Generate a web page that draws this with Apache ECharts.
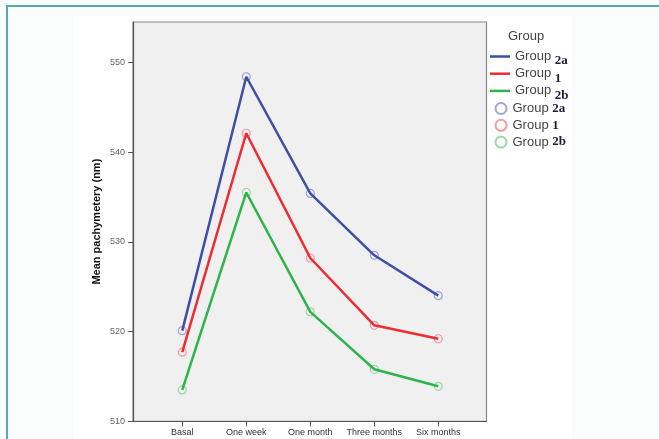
<!DOCTYPE html>
<html>
<head>
<meta charset="utf-8">
<script src="https://cdn.jsdelivr.net/npm/echarts@6/dist/echarts.min.js"></script>
<style>
  html, body { margin: 0; padding: 0; background: #fbfcfc; }
  #frame { position: absolute; left: 6px; top: 5px; width: 660px; height: 440px;
           border-top: 2px solid #5aa9a8; border-left: 2px solid #5aa9a8; }
  #paper { position: absolute; left: 73px; top: 16px; width: 499px; height: 423px; background: #fff; }
  #main { position: absolute; left: 0; top: 0; width: 659px; height: 439px; }
</style>
</head>
<body>
<div id="frame"></div>
<div id="paper"></div>
<div id="main"></div>
<script>
// categories on the x axis
var categories = ["Basal", "One week", "One month", "Three months", "Six months"];
// y axis tick values
var yTicks = [510, 520, 530, 540, 550];
// mean pachymetry per group
var group2a = [520.1, 548.4, 535.4, 528.5, 524.0];
var group1  = [517.7, 542.1, 528.2, 520.7, 519.2];
var group2b = [513.5, 535.5, 522.2, 515.8, 513.9];

var subs = { "2a": group2a, "1": group1, "2b": group2b };
var lineColors = { "2a": "#3f4fa5", "1": "#ee2b32", "2b": "#2eb44a" };
var dotColors  = { "2a": "#8790d0", "1": "#f2858a", "2b": "#86d190" };
var order = ["2a", "1", "2b"];

function pts(arr) {
  return arr.map(function (v, i) { return [i, v]; });
}

var series = [];
order.forEach(function (k) {
  series.push({
    name: "line " + k,
    type: "line",
    symbol: "none",
    data: pts(subs[k]),
    lineStyle: { color: lineColors[k], width: 2.5 },
    itemStyle: { color: lineColors[k] },
    z: 3
  });
});
order.forEach(function (k) {
  series.push({
    name: "dot " + k,
    type: "scatter",
    symbol: "circle",
    symbolSize: 8,
    data: pts(subs[k]),
    itemStyle: { color: "rgba(255,255,255,0)", borderColor: dotColors[k], borderWidth: 1.2 },
    z: 2
  });
});

var richText = {
  g: { fontFamily: "Liberation Sans, Arial", fontSize: 13, color: "#444" },
  s: { fontFamily: "Liberation Serif, Times New Roman", fontWeight: "bold", fontSize: 13, color: "#1c1c33" }
};
var richLow = {
  g: { fontFamily: "Liberation Sans, Arial", fontSize: 13, color: "#444", lineHeight: 12 },
  s: { fontFamily: "Liberation Serif, Times New Roman", fontWeight: "bold", fontSize: 13, color: "#1c1c33",
       lineHeight: 22, verticalAlign: "bottom" }
};

var myChart = echarts.init(document.getElementById("main"));
myChart.setOption({
  animation: false,
  backgroundColor: "transparent",
  title: {
    text: "Group", left: 508, top: 30, padding: 0,
    textStyle: { fontFamily: "Liberation Sans, Arial", fontSize: 13, fontWeight: "normal", color: "#444" }
  },
  legend: [
    {
      orient: "vertical", left: 490, top: 50, padding: 0,
      itemWidth: 20, itemHeight: 14, itemGap: -0.3,
      icon: "path://M0,0 L40,0 L40,5 L0,5 Z",
      data: order.map(function (k) { return "line " + k; }),
      formatter: function (n) { return "{g|Group }{s|" + n.split(" ")[1] + "}"; },
      textStyle: { rich: richLow },
      selectedMode: false
    },
    {
      orient: "vertical", left: 494.5, top: 102, padding: 0,
      itemWidth: 13, itemHeight: 11, itemGap: 3.8,
      data: order.map(function (k) { return "dot " + k; }),
      formatter: function (n) { return "{g|Group }{s|" + n.split(" ")[1] + "}"; },
      textStyle: { rich: richText },
      selectedMode: false
    }
  ],
  grid: {
    left: 133, top: 22, right: 172.5, bottom: 17.7,
    show: true, backgroundColor: "#f0f0f0", borderColor: "#8a8a8a", borderWidth: 1.2
  },
  xAxis: {
    type: "value", min: -0.77, max: 4.753,
    splitLine: { show: false },
    axisLine: { show: true, onZero: false, lineStyle: { color: "#555", width: 1.2 } },
    axisTick: { show: true, customValues: [0, 1, 2, 3, 4], length: 5, lineStyle: { color: "#555" } },
    axisLabel: {
      customValues: [0, 1, 2, 3, 4],
      formatter: function (v) { return categories[Math.round(v)]; },
      fontFamily: "Liberation Sans, Arial", fontSize: 9, color: "#333", margin: 7
    }
  },
  yAxis: {
    type: "value", min: 510, max: 554.5,
    name: "Mean pachymetery (nm)", nameLocation: "middle", nameGap: 31, nameMoveOverlap: false,
    nameTextStyle: { fontFamily: "Liberation Sans, Arial", fontSize: 11, fontWeight: "bold", color: "#111" },
    splitLine: { show: false },
    axisLine: { show: true, onZero: false, lineStyle: { color: "#555", width: 1.2 } },
    axisTick: { show: true, customValues: yTicks, length: 5, lineStyle: { color: "#555" } },
    axisLabel: {
      customValues: yTicks,
      fontFamily: "Liberation Sans, Arial", fontSize: 9, color: "#666", margin: 8
    }
  },
  series: series
});
</script>
</body>
</html>
